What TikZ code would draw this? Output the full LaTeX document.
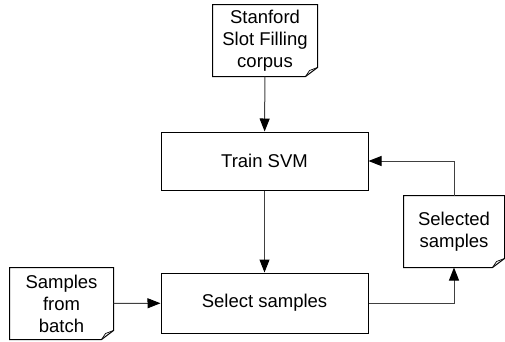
\documentclass[tikz,border=0pt]{standalone}
\usepackage{fontspec}
\setmainfont{Liberation Sans}
\usetikzlibrary{arrows.meta}

\begin{document}
\begin{tikzpicture}[x=1pt,y=-1pt,line width=1pt,
    font=\fontsize{18.5}{22}\selectfont,
    box/.style={draw,minimum width=207pt,inner sep=0pt},
    doc/.style={inner sep=0pt,align=center},
    link/.style={draw=black!75,-{Triangle[length=13pt,width=10pt,color=black]}}]
            \useasboundingbox (0,0) rectangle (505,341);
            \node[doc,minimum width=104pt,minimum height=71pt] (corpus) at (265,40.5) {Stanford\\Slot Filling\\corpus};
            \node[box,minimum height=58pt] (train) at (264.5,161) {Train SVM};
            \node[box,minimum height=60pt] (select) at (264.5,303) {Select samples};
            \node[doc,minimum width=103pt,minimum height=71pt] (batch) at (61.5,303.5) {Samples\\from\\batch};
            \node[doc,minimum width=100pt,minimum height=71pt] (selected) at (454,231.5) {Selected\\samples};
            % documents with a folded corner
            \foreach \n in {corpus,batch,selected} {
                \draw (\n.north west) -- (\n.north east) -- ([yshift=9pt]\n.south east)
                    -- ([xshift=-12pt]\n.south east) -- (\n.south west) -- cycle;
                \draw[line width=.7pt] ([xshift=-12pt]\n.south east) -- ([xshift=-8pt,yshift=6pt]\n.south east)
                    -- ([yshift=9pt]\n.south east);
            }
            \draw[link] (corpus) -- (train);
            \draw[link] (train) -- (select);
            \draw[link] (batch) -- (select);
            \draw[link] (select.east) -| (selected.south);
            \draw[link] (selected.north) |- (train.east);
        \end{tikzpicture}
\end{document}
